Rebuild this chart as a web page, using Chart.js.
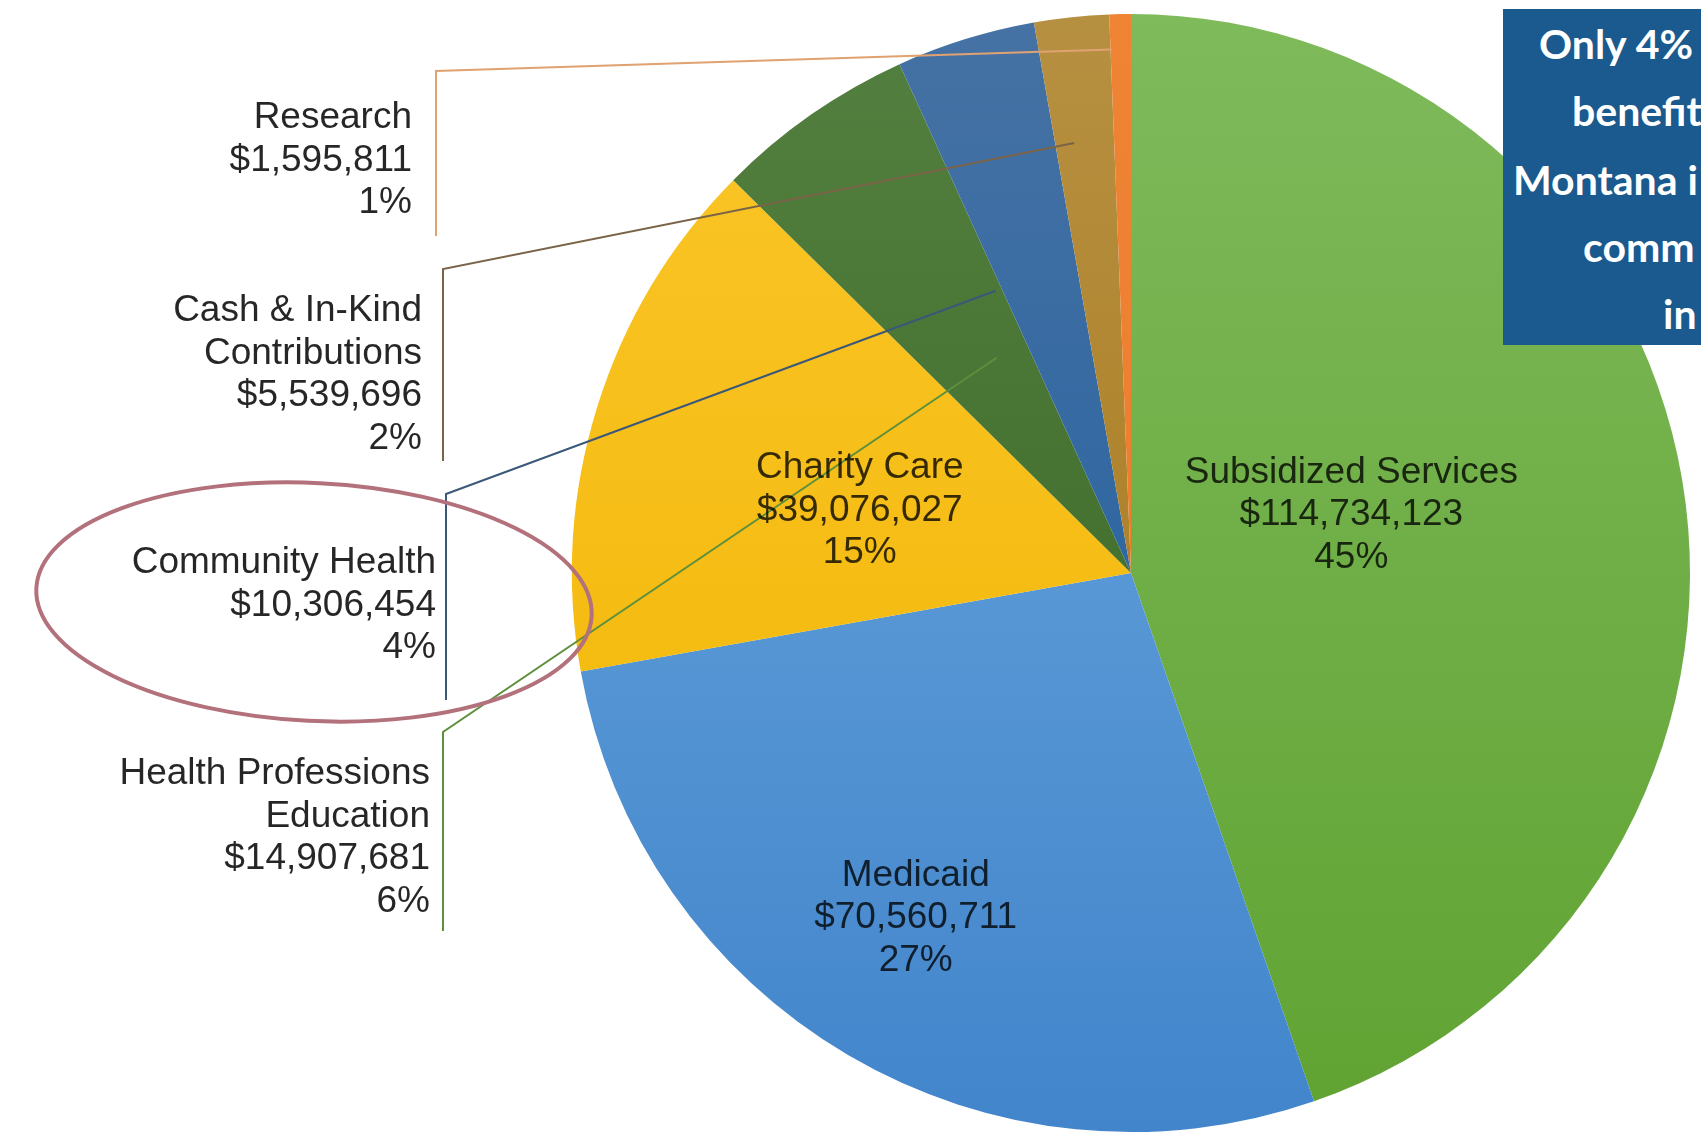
<!DOCTYPE html>
<html>
<head>
<meta charset="utf-8">
<script src="https://cdn.jsdelivr.net/npm/chart.js@4.4.1/dist/chart.umd.min.js"></script>
<style>
  html, body { margin: 0; padding: 0; background: #fff; }
  body { width: 1701px; height: 1138px; overflow: hidden; position: relative; }
  #benefitChart { position: absolute; left: 0; top: 0; }
  .note {
    position: absolute; left: 1503px; top: 9px; width: 400px; height: 336px;
    background: #1b5a8e; color: #fff;
    font-family: Lato, "Open Sans", sans-serif; font-weight: 700; font-size: 41px;
  }
  .note span { position: absolute; white-space: nowrap; line-height: 1; }
</style>
</head>
<body>
<canvas id="benefitChart" width="1701" height="1138"></canvas>
<div class="note">
  <span style="left:36px; top:14px">Only 4%</span>
  <span style="left:69px; top:81px">benefit</span>
  <span style="left:10px; top:150px">Montana i</span>
  <span style="left:80px; top:217px">comm</span>
  <span style="left:160px; top:284px">in</span>
</div>
<script>
// community benefit spending by category
const categories = [
  ['Subsidized Services'],
  ['Medicaid'],
  ['Charity Care'],
  ['Health Professions', 'Education'],
  ['Community Health'],
  ['Cash & In-Kind', 'Contributions'],
  ['Research']
];
const amounts = [114734123, 70560711, 39076027, 14907681, 10306454, 5539696, 1595811];

// slice shading, light at the top to dark at the bottom
const topColors = ['#7fba5b', '#6eaae0', '#fbc62a', '#537f40', '#4672a4', '#b69041', '#ef8435'];
const bottomColors = ['#60a332', '#4285cb', '#f0b400', '#386420', '#1a5c9e', '#a77414', '#ea7828'];

const FONT = '37px "Liberation Sans", Arial, sans-serif';
const LINE_H = 42.5;
const Y_NUDGE = 4;

// labels placed inside the slice: fraction along the slice angle, fraction of radius
const insideSpots = {
  0: { t: 0.46, r: 0.41 },
  1: { t: 0.52, r: 0.72 },
  2: { t: 0.44, r: 0.50 }
};

// labels to the left with a bracket line and leader into the slice
const calloutSpots = {
  3: { textRight: 430, firstY: 770, lineX: 443, lineTop: 732, lineBottom: 931, t: 0.64, r: 0.454, color: '#5e8f3c' },
  4: { textRight: 436, firstY: 559, lineX: 446, lineTop: 494, lineBottom: 700, t: -0.08, r: 0.56, color: '#3b5878' },
  5: { textRight: 422, firstY: 307, lineX: 443, lineTop: 269, lineBottom: 461, t: 0.32, r: 0.776, color: '#7a6448' },
  6: { textRight: 412, firstY: 114, lineX: 436, lineTop: 71, lineBottom: 236, t: 0.05, r: 0.937, color: '#dfa270' }
};

const total = amounts.reduce((a, b) => a + b, 0);

function labelLines(i) {
  const pct = Math.round(amounts[i] / total * 100) + '%';
  return categories[i].concat(['$' + amounts[i].toLocaleString('en-US'), pct]);
}

function shade(ctx) {
  const i = ctx.dataIndex;
  const area = ctx.chart.chartArea;
  if (!area) return topColors[i];
  const g = ctx.chart.ctx.createLinearGradient(0, area.top, 0, area.bottom);
  g.addColorStop(0, topColors[i]);
  g.addColorStop(1, bottomColors[i]);
  return g;
}

const labelPlugin = {
  id: 'sliceLabels',
  afterDatasetsDraw(chart) {
    const ctx = chart.ctx;
    const meta = chart.getDatasetMeta(0);
    ctx.save();
    ctx.font = FONT;
    ctx.textBaseline = 'middle';

    meta.data.forEach((arc, i) => {
      const p = arc.getProps(['x', 'y', 'startAngle', 'endAngle', 'outerRadius'], true);
      const lines = labelLines(i);

      if (calloutSpots[i]) {
        const s = calloutSpots[i];
        const a = p.startAngle + (p.endAngle - p.startAngle) * s.t;
        const ex = p.x + Math.cos(a) * p.outerRadius * s.r;
        const ey = p.y + Math.sin(a) * p.outerRadius * s.r;
        ctx.strokeStyle = s.color;
        ctx.lineWidth = 2;
        ctx.beginPath();
        ctx.moveTo(s.lineX, s.lineBottom);
        ctx.lineTo(s.lineX, s.lineTop);
        ctx.lineTo(ex, ey);
        ctx.stroke();

        ctx.fillStyle = 'rgba(0,0,0,0.85)';
        ctx.textAlign = 'right';
        lines.forEach((ln, k) => {
          ctx.fillText(ln, s.textRight, s.firstY + Y_NUDGE + k * LINE_H);
        });
      }
    });

    meta.data.forEach((arc, i) => {
      if (!insideSpots[i]) return;
      const p = arc.getProps(['x', 'y', 'startAngle', 'endAngle', 'outerRadius'], true);
      const lines = labelLines(i);
      const s = insideSpots[i];
      const a = p.startAngle + (p.endAngle - p.startAngle) * s.t;
      const cx = p.x + Math.cos(a) * p.outerRadius * s.r;
      const cy = p.y + Math.sin(a) * p.outerRadius * s.r + Y_NUDGE + 1;
      ctx.fillStyle = 'rgba(0,0,0,0.78)';
      ctx.textAlign = 'center';
      lines.forEach((ln, k) => {
        ctx.fillText(ln, cx, cy + (k - (lines.length - 1) / 2) * LINE_H);
      });
    });

    // the red ring around Community Health
    ctx.strokeStyle = '#b3717c';
    ctx.lineWidth = 4;
    ctx.beginPath();
    ctx.ellipse(314, 602, 278, 119, 0.05, 0, Math.PI * 2);
    ctx.stroke();
    ctx.restore();
  }
};

const chart = new Chart(document.getElementById('benefitChart'), {
  type: 'pie',
  data: {
    labels: categories,
    datasets: [{
      data: amounts,
      backgroundColor: shade,
      borderWidth: 0
    }]
  },
  options: {
    responsive: false,
    animation: false,
    layout: { padding: { left: 572, right: 11, top: 14, bottom: 6 } },
    plugins: {
      legend: { display: false },
      tooltip: { enabled: false }
    }
  },
  plugins: [labelPlugin]
});
</script>
</body>
</html>
